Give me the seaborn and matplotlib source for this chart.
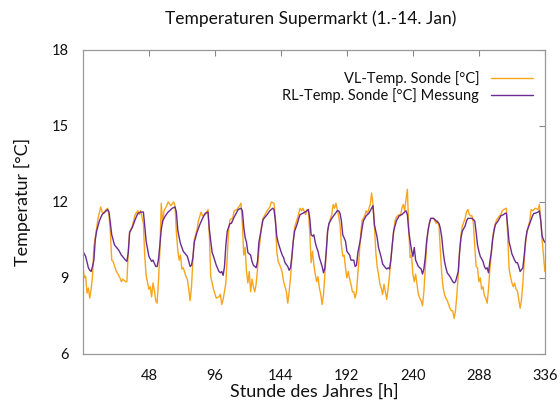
import matplotlib
matplotlib.use("Agg")
import matplotlib.pyplot as plt
import seaborn as sns
import pandas as pd

# VL-Temp. Sonde (orange) - hour of year, temperature
vl_hours = [0,1,2,3,4,5,6,7,8,9,10,11,13,14,15,17,18,19,20,21,22,24,25,27,28,29,31,32,33,34,36,38,40,41,42,44,45,46,48,49,50,51,52,53,54,55,56,57,58,59,61,62,64,66,67,68,69,70,71,72,73,75,76,77,78,79,80,81,83,84,86,87,89,91,92,93,94,95,97,99,100,101,102,104,105,106,107,109,110,112,114,115,116,117,118,119,120,121,122,123,124,125,126,127,128,130,131,134,136,137,139,140,141,142,144,145,146,147,148,149,150,151,152,153,154,156,157,158,159,160,162,163,164,165,166,167,168,169,170,171,172,173,174,175,176,177,178,179,181,182,183,184,185,186,187,188,189,190,191,192,193,194,195,196,197,198,199,200,201,202,203,204,205,206,207,209,210,211,212,213,214,215,216,217,218,219,220,221,222,223,224,225,226,227,228,229,230,231,232,233,234,235,236,237,238,239,240,241,242,243,244,245,246,247,248,249,250,251,252,253,254,255,256,257,258,259,260,261,262,263,264,265,267,268,269,270,271,272,273,274,275,276,278,279,280,281,282,283,284,285,286,287,288,289,290,291,292,293,294,295,296,297,298,299,300,301,303,304,305,306,308,309,310,311,312,313,314,315,316,317,318,319,320,321,322,323,324,325,326,327,328,329,331,332,333,334,335,336]
vl_temp = [9.45,9.0,9.07,8.4,8.6,8.2,8.55,9.05,10.25,10.6,10.95,11.35,11.8,11.6,11.55,11.7,11.75,11.45,10.8,9.7,9.65,9.3,9.2,9.0,8.85,8.95,8.85,8.85,10.0,10.8,11.05,11.5,11.65,11.5,11.65,11.15,9.85,9.1,8.55,8.65,8.25,8.8,8.5,8.1,8.0,8.9,10.1,11.95,11.15,11.65,11.85,12.0,11.85,12.0,11.85,10.8,10.1,9.7,9.9,9.35,9.4,9.05,8.95,8.55,8.1,8.65,9.7,10.5,10.9,11.25,11.6,11.45,11.5,11.7,10.65,9.05,8.8,8.55,8.2,8.25,8.35,7.95,8.15,8.8,9.85,10.9,11.3,11.35,11.65,11.7,11.85,11.95,11.1,9.9,10.2,9.25,8.8,9.25,8.45,8.95,8.65,8.45,8.75,9.35,10.05,11.05,11.35,11.65,11.8,12.0,11.95,11.35,10.05,9.65,9.4,9.2,8.85,8.65,8.45,8.0,8.45,9.0,9.8,10.45,11.0,11.35,11.55,11.75,11.65,11.75,11.5,11.7,11.65,10.8,9.6,10.05,9.5,9.15,8.85,9.05,8.6,8.35,7.95,8.35,9.15,10.05,10.85,11.15,11.5,11.9,11.75,11.95,11.7,11.45,11.1,10.3,9.85,9.9,9.4,9.0,9.25,8.95,8.75,8.45,8.45,8.2,8.45,9.15,9.9,10.7,11.25,11.35,11.45,11.65,11.55,11.9,12.35,11.9,11.1,10.05,9.45,9.15,8.75,8.6,8.35,8.75,8.45,8.15,8.6,9.1,9.8,10.3,10.8,11.25,11.4,11.45,11.5,11.45,11.75,11.9,11.65,12.1,12.5,10.9,9.8,9.9,9.15,8.85,9.15,8.75,8.35,8.2,8.1,7.9,8.45,9.4,10.3,10.9,11.15,11.35,11.35,11.35,11.25,11.15,11.25,11.05,10.05,9.15,8.6,8.35,8.2,8.1,7.8,7.7,7.7,7.4,7.7,8.35,9.15,10.05,10.7,11.05,11.35,11.6,11.7,11.5,11.45,11.45,11.15,10.25,9.45,9.4,8.85,9.0,8.55,8.65,8.3,8.2,8.0,8.55,9.35,9.9,10.6,10.95,11.15,11.3,11.45,11.5,11.65,11.7,11.75,10.6,9.35,9.05,8.8,8.65,8.8,8.55,8.5,8.15,7.8,8.15,8.8,9.7,10.4,10.8,11.05,11.25,11.7,11.65,11.7,11.75,11.7,11.9,11.3,10.5,9.85,9.25]

# RL-Temp. Sonde Messung (purple) - hour of year, temperature
rl_hours = [0,2,4,5,6,7,8,9,10,12,14,16,18,19,20,21,23,26,28,31,32,33,34,36,38,40,42,44,45,46,48,50,51,53,54,55,56,57,58,60,62,65,67,68,69,70,71,73,76,78,79,80,81,83,85,87,89,91,92,94,95,97,99,100,101,102,103,104,105,107,108,110,113,115,116,117,118,119,120,122,123,124,125,126,127,128,130,131,134,136,138,139,140,141,142,144,145,146,147,149,150,151,152,153,154,156,157,158,160,163,164,165,166,167,168,169,170,171,172,174,175,176,177,178,179,181,183,185,186,187,188,189,191,192,194,195,197,198,199,200,202,203,204,206,208,210,211,212,214,215,216,217,218,220,221,222,223,224,225,226,228,229,230,232,233,235,236,237,238,239,240,241,242,244,245,246,247,248,249,250,251,252,253,255,257,259,260,261,262,263,264,265,267,268,269,270,271,273,274,275,276,278,279,280,281,282,283,285,286,287,288,289,291,292,293,294,295,296,297,298,299,300,302,303,304,306,307,308,309,310,311,312,314,315,316,317,318,320,321,322,323,325,326,327,328,329,331,332,333,334,335,336]
rl_temp = [10.05,9.85,9.4,9.3,9.25,9.45,9.7,10.5,10.85,11.25,11.5,11.6,11.7,11.6,11.15,10.7,10.3,10.1,9.9,9.7,9.65,10.0,10.8,11.0,11.3,11.55,11.6,11.6,11.05,10.45,9.85,9.65,9.7,9.45,9.45,9.75,10.3,10.9,11.25,11.45,11.6,11.75,11.8,11.6,10.9,10.6,10.35,10.05,9.85,9.45,9.5,9.8,10.4,10.8,11.1,11.35,11.55,11.6,10.9,10.0,9.85,9.5,9.25,9.2,9.25,9.1,9.45,10.3,10.85,11.15,11.15,11.4,11.7,11.75,11.65,11.0,10.6,10.4,10.0,9.9,9.65,9.5,9.45,9.4,9.65,10.4,11.0,11.3,11.5,11.65,11.75,11.7,11.25,10.65,10.4,10.05,9.9,9.8,9.6,9.45,9.3,9.4,9.85,10.45,10.85,11.15,11.35,11.5,11.55,11.65,11.7,11.35,10.7,10.65,10.7,10.4,10.2,10.05,9.8,9.45,9.2,9.4,10.05,10.85,11.15,11.35,11.5,11.65,11.65,11.55,11.25,10.7,10.45,10.05,9.9,9.7,9.7,9.45,9.5,10.0,10.55,10.95,11.25,11.45,11.55,11.75,11.85,11.1,10.6,10.2,10.0,9.8,9.55,9.4,9.35,9.4,9.35,9.7,10.3,10.85,11.25,11.35,11.45,11.5,11.55,11.65,11.5,10.85,10.45,10.1,9.85,10.2,9.7,9.45,9.4,9.35,9.15,9.35,9.8,10.45,10.85,11.15,11.35,11.35,11.25,11.15,10.95,10.6,10.05,9.65,9.4,9.2,9.05,8.95,8.85,8.8,8.85,9.25,10.05,10.6,10.85,11.05,11.25,11.35,11.35,11.35,11.35,11.25,10.8,10.3,10.05,9.85,9.65,9.45,9.35,9.4,9.2,9.65,10.0,10.5,10.85,11.1,11.25,11.35,11.45,11.5,11.55,11.55,11.0,10.4,10.2,9.95,9.7,9.6,9.6,9.45,9.25,9.4,9.9,10.5,10.85,11.15,11.3,11.45,11.55,11.55,11.6,11.65,11.25,10.65,10.5,10.4]

x_ticks = [48, 96, 144, 192, 240, 288, 336]
y_ticks = [6, 9, 12, 15, 18]

vl_label = "VL-Temp. Sonde [°C]"
rl_label = "RL-Temp. Sonde [°C] Messung"

df = pd.concat([
    pd.DataFrame({"Stunde": vl_hours, "Temperatur": vl_temp, "Reihe": vl_label}),
    pd.DataFrame({"Stunde": rl_hours, "Temperatur": rl_temp, "Reihe": rl_label}),
], ignore_index=True)

sns.set_theme(style="white")
plt.rcParams["font.family"] = ["Lato", "DejaVu Sans"]

fig = plt.figure(figsize=(5.6, 4.03), dpi=100)
ax = fig.add_axes([0.148, 0.122, 0.825, 0.754])

sns.lineplot(data=df, x="Stunde", y="Temperatur", hue="Reihe",
             palette={vl_label: "#F9A51C", rl_label: "#6A2C91"},
             linewidth=1.0, ax=ax, estimator=None, sort=False)

ax.set_xlim(0, 336)
ax.set_ylim(6, 18)
ax.set_xticks(x_ticks)
ax.set_yticks(y_ticks)
ax.tick_params(axis="both", direction="in", length=4, width=0.8, color="#888888",
               top=True, right=True, labelsize=10.5, labelcolor="#111111", pad=10)
ax.tick_params(axis="x", pad=11)
for s in ax.spines.values():
    s.set_color("#999999")
    s.set_linewidth(0.9)

ax.set_xlabel("Stunde des Jahres [h]", fontsize=13, labelpad=0, color="#111111")
ax.set_ylabel("Temperatur [°C]", fontsize=13, labelpad=15, color="#111111")
fig.suptitle("Temperaturen Supermarkt (1.-14. Jan)", fontsize=12.5, y=0.975, x=0.555, color="#111111")

leg = ax.legend(loc="upper right", bbox_to_anchor=(1.0, 0.97), frameon=False,
                markerfirst=False, fontsize=10.5, handlelength=2.9,
                handletextpad=0.8, labelspacing=0.15, borderaxespad=0.4)
for t in leg.get_texts():
    t.set_ha("right")
    t.set_color("#111111")
leg._legend_box.align = "right"

fig.savefig("out.png", dpi=100, facecolor="white")
